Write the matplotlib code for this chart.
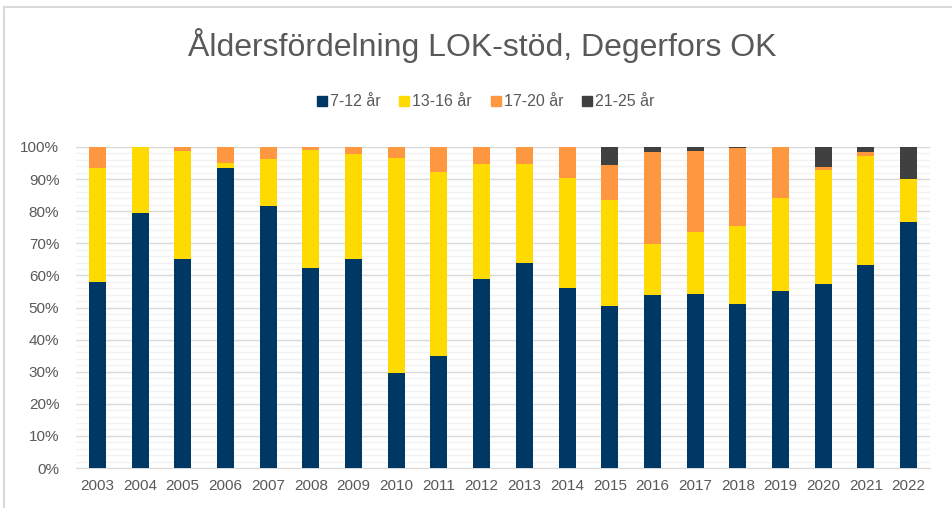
import matplotlib.pyplot as plt
import numpy as np
from matplotlib.ticker import MultipleLocator, PercentFormatter
from matplotlib.lines import Line2D

plt.rcParams['font.family'] = ['Liberation Sans', 'DejaVu Sans']

years = [str(y) for y in range(2003, 2023)]
age_7_12 = [58.0, 79.4, 65.2, 93.6, 81.6, 62.3, 65.2, 29.6, 34.9, 58.8,
            64.0, 56.1, 50.6, 53.9, 54.3, 51.0, 55.2, 57.4, 63.3, 76.5]
age_13_16 = [35.5, 20.6, 33.4, 1.4, 14.7, 36.8, 32.6, 67.0, 57.4, 35.9,
             30.7, 34.1, 33.0, 15.9, 19.1, 24.3, 28.9, 35.5, 34.0, 13.5]
age_17_20 = [6.5, 0.0, 1.4, 5.0, 3.7, 0.9, 2.2, 3.4, 7.7, 5.3,
             5.3, 9.8, 10.9, 28.6, 25.4, 24.5, 15.9, 0.9, 1.0, 0.0]
age_21_25 = [0.0, 0.0, 0.0, 0.0, 0.0, 0.0, 0.0, 0.0, 0.0, 0.0,
             0.0, 0.0, 5.5, 1.6, 1.2, 0.2, 0.0, 6.2, 1.7, 10.0]

series = [age_7_12, age_13_16, age_17_20, age_21_25]
names = ["7-12 år", "13-16 år", "17-20 år", "21-25 år"]
colors = ["#003865", "#FFDA00", "#FF9640", "#404040"]
txt = "#595959"

fig = plt.figure(figsize=(9.53, 5.08), dpi=100)
ax = fig.add_axes([76/953, 40/508, 854/953, 321/508])

x = np.arange(len(years))
bottom = np.zeros(len(years))
for vals, name, c in zip(series, names, colors):
    ax.bar(x, vals, 0.4, bottom=bottom, color=c, label=name, zorder=3)
    bottom += np.array(vals)

ax.set_xlim(-0.5, len(years) - 0.5)
ax.set_ylim(0, 100)
ax.yaxis.set_major_locator(MultipleLocator(10))
ax.yaxis.set_minor_locator(MultipleLocator(2))
ax.yaxis.set_major_formatter(PercentFormatter(decimals=0))
ax.grid(axis='y', which='major', color='#D9D9D9', lw=1, zorder=0)
ax.grid(axis='y', which='minor', color='#F2F2F2', lw=1, zorder=0)
ax.set_xticks(x, years)
for s in ['top', 'right', 'left']:
    ax.spines[s].set_visible(False)
ax.spines['bottom'].set_color('#D9D9D9')
ax.tick_params(axis='both', which='both', length=0, colors=txt, labelsize=11)
ax.tick_params(axis='y', pad=12)
ax.tick_params(axis='x', pad=8)

fig.text(0.506, 0.91, "Åldersfördelning LOK-stöd, Degerfors OK", ha='center', va='center',
         fontsize=23, color=txt)

handles = [Line2D([], [], marker='s', ls='', color=c, markersize=6.5) for c in colors]
fig.legend(handles, names, loc='center', bbox_to_anchor=(0.508, 0.8), ncol=4,
           frameon=False, fontsize=11.5, labelcolor=txt, handletextpad=0.0,
           columnspacing=1.0, handlelength=1.0)

fig.add_artist(Line2D([4/953, 4/953], [0, 1 - 7/508], color='#D9D9D9', lw=1.5))
fig.add_artist(Line2D([4/953, 1], [1 - 7/508, 1 - 7/508], color='#D9D9D9', lw=1.5))

fig.savefig("out.png", dpi=100)
